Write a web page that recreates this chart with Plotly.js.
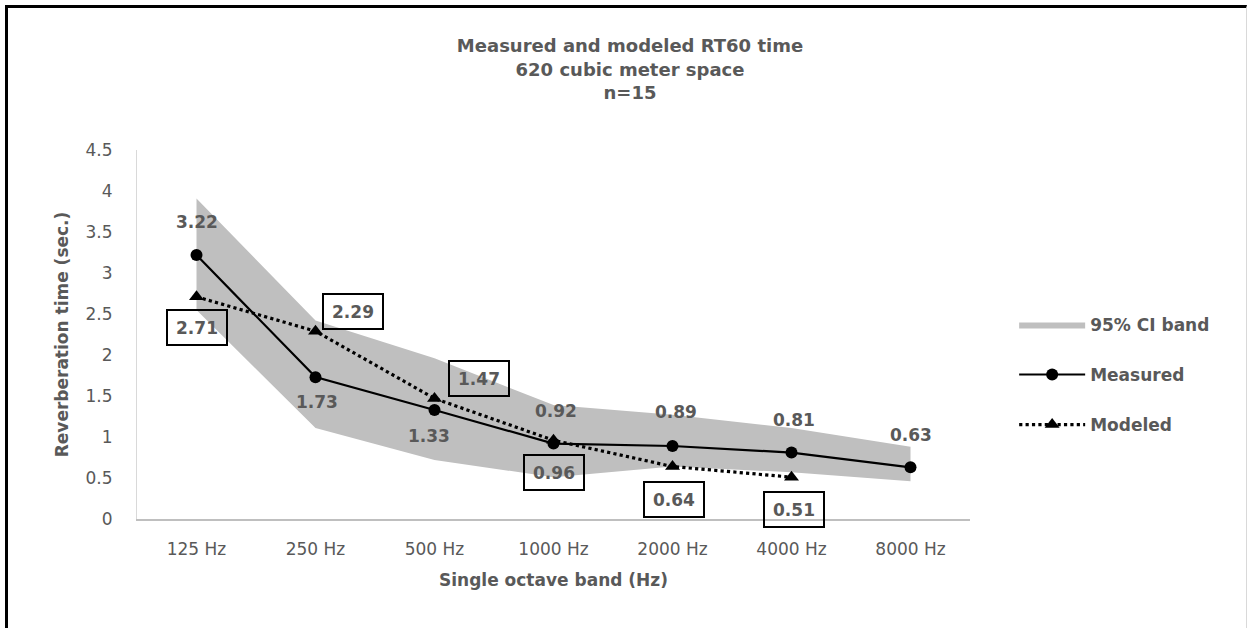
<!DOCTYPE html>
<html>
<head>
<meta charset="utf-8">
<script src="https://cdn.plot.ly/plotly-3.0.1.min.js"></script>
<style>
  html, body { margin: 0; padding: 0; background: #fff; }
  #wrap { position: relative; width: 1250px; height: 628px; }
  #chart { position: absolute; left: 0; top: 0; width: 1250px; height: 628px; }
  #frame { position: absolute; left: 5px; top: 5px; width: 1238px; height: 640px;
           border-left: 3px solid #000; border-top: 3px solid #000; border-right: 1px solid #d9d9d9;
           pointer-events: none; }
</style>
</head>
<body>
<div id="wrap"><div id="chart"></div><div id="frame"></div></div>
<script>
// ---- data ----
const categories = ["125 Hz", "250 Hz", "500 Hz", "1000 Hz", "2000 Hz", "4000 Hz", "8000 Hz"];
const measured = [3.22, 1.73, 1.33, 0.92, 0.89, 0.81, 0.63];
const modeledCats = ["125 Hz", "250 Hz", "500 Hz", "1000 Hz", "2000 Hz", "4000 Hz"];
const modeled = [2.71, 2.29, 1.47, 0.96, 0.64, 0.51];
const ciLower = [2.55, 1.11, 0.72, 0.51, 0.64, 0.57, 0.46];
const ciUpper = [3.91, 2.42, 1.96, 1.39, 1.27, 1.11, 0.88];
const yTicks = [0, 0.5, 1, 1.5, 2, 2.5, 3, 3.5, 4, 4.5];

// ---- style (label offsets in px) ----
const measuredLabelShift = [[0, 33], [1, -25], [-6, -26], [2, 33], [3, 34], [2, 33], [0, 32]];
const modeledLabelShift = [[0, -31], [37, 20], [44, 20], [0, -32], [1, -33], [2, -32]];

const FONT = "'DejaVu Sans', sans-serif";
const GREY = "#595959";

const traces = [
  { x: categories, y: ciLower, type: "scatter", mode: "lines", line: { width: 0 },
    showlegend: false, hoverinfo: "skip", legendgroup: "a" },
  { x: categories, y: ciUpper, type: "scatter", mode: "lines", line: { width: 0 },
    fill: "tonexty", fillcolor: "#bfbfbf", name: "95% CI band", legendgroup: "a" },
  { x: categories, y: measured, type: "scatter", mode: "lines+markers", name: "Measured",
    line: { color: "#000", width: 2.2 }, marker: { symbol: "circle", size: 12, color: "#000" },
    legendgroup: "b" },
  { x: modeledCats, y: modeled, type: "scatter", mode: "lines+markers", name: "Modeled",
    line: { color: "#000", width: 3.2, dash: "dot" }, marker: { symbol: "triangle-up", size: 13, color: "#000" },
    legendgroup: "c" }
];

const annotations = [];
measured.forEach((v, i) => {
  annotations.push({ x: categories[i], y: v, xref: "x", yref: "y", text: v.toFixed(2), showarrow: false,
    xshift: measuredLabelShift[i][0], yshift: measuredLabelShift[i][1],
    font: { family: FONT, size: 17, color: GREY, weight: "bold" } });
});
modeled.forEach((v, i) => {
  annotations.push({ x: modeledCats[i], y: v, xref: "x", yref: "y", text: v.toFixed(2), showarrow: false,
    xshift: modeledLabelShift[i][0], yshift: modeledLabelShift[i][1],
    width: 56, height: 31, bgcolor: "rgba(255,255,255,0)", bordercolor: "#000", borderwidth: 2, borderpad: 1,
    font: { family: FONT, size: 17, color: GREY, weight: "bold" } });
});

const layout = {
  width: 1250, height: 628,
  margin: { l: 137, r: 280, t: 150, b: 109 },
  paper_bgcolor: "#fff", plot_bgcolor: "#fff",
  font: { family: FONT, color: GREY, size: 17 },
  title: { text: "<b>Measured and modeled RT60 time<br>620 cubic meter space<br>n=15</b>",
    x: 0.504, xanchor: "center", y: 0.917, yanchor: "top",
    font: { family: FONT, size: 18, color: GREY }, lineheight: 1.5 },
  xaxis: { type: "category", range: [-0.5, 6.5], showgrid: false, zeroline: false,
    showline: true, linecolor: "#bfbfbf", linewidth: 2, ticks: "",
    tickfont: { family: FONT, size: 17, color: GREY }, ticklabelstandoff: 14,
    title: { text: "<b>Single octave band (Hz)</b>", standoff: 16, font: { family: FONT, size: 17, color: GREY } } },
  yaxis: { range: [0, 4.5], tickvals: yTicks, ticktext: yTicks.map(String), showgrid: false, zeroline: false,
    showline: true, linecolor: "#d9d9d9", linewidth: 1, ticks: "",
    tickfont: { family: FONT, size: 17, color: GREY }, ticklabelstandoff: 20,
    title: { text: "<b>Reverberation time (sec.)</b>", standoff: 12, font: { family: FONT, size: 17, color: GREY } } },
  legend: { x: 1.053, xanchor: "left", y: 0.575, yanchor: "top", traceorder: "grouped", tracegroupgap: 25,
    itemwidth: 66, font: { family: FONT, size: 17, color: GREY, weight: "bold" }, bgcolor: "rgba(0,0,0,0)" },
  annotations: annotations,
  showlegend: true
};

Plotly.newPlot("chart", traces, layout, { displayModeBar: false, staticPlot: true });
</script>
</body>
</html>
